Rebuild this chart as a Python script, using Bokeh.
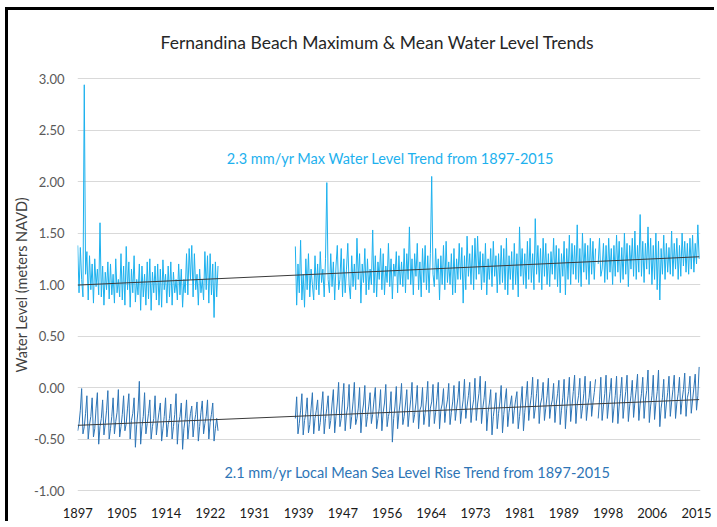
import numpy as np
from bokeh.plotting import figure
from bokeh.models import Range1d, FixedTicker, NumeralTickFormatter, Title
from bokeh.core.properties import value
from bokeh.embed import file_html
from bokeh.resources import INLINE

nan = float("nan")

# ---------------- data ----------------
title_text = "Fernandina Beach Maximum & Mean Water Level Trends"
y_label_text = "Water Level (meters NAVD)"
max_note = "2.3 mm/yr Max Water Level Trend from 1897-2015"
mean_note = "2.1 mm/yr Local Mean Sea Level Rise Trend from 1897-2015"

x_tick_labels = ["1897", "1905", "1914", "1922", "1931", "1939", "1947", "1956",
                 "1964", "1973", "1981", "1989", "1998", "2006", "2015"]
y_ticks = [-1.0, -0.5, 0.0, 0.5, 1.0, 1.5, 2.0, 2.5, 3.0]

seg1_start = 1897.0   # first record
seg2_start = 1938.5   # record resumes
step_years = 0.25     # quarterly samples

# Maximum water level (m NAVD), 1897 - 1923
max_seg1 = [
    1.38, 0.92, 1.36, 1.05,  0.88, 2.94, 1.10, 1.32,  0.85, 1.28, 0.95, 1.20,
    0.82, 1.25, 0.98, 1.15,  0.90, 1.60, 0.88, 1.18,  0.80, 1.12, 0.95, 1.22,
    0.86, 1.20, 0.90, 1.10,  0.82, 1.25, 0.92, 1.05,  0.88, 1.30, 0.85, 1.18,
    0.80, 1.37, 0.95, 1.22,  0.78, 1.15, 0.92, 1.28,  0.83, 1.05, 0.90, 1.20,
    0.75, 1.18, 0.88, 1.10,  0.80, 1.22, 0.86, 1.25,  0.75, 1.12, 0.92, 1.18,
    0.85, 1.20, 0.80, 1.15,  0.78, 1.24, 0.95, 1.10,  0.82, 1.18, 0.88, 1.22,
    0.80, 1.12, 0.92, 1.05,  0.85, 1.20, 0.90, 1.15,  0.78, 1.05, 0.92, 1.30,
    0.90, 1.35, 1.05, 1.38,  0.88, 1.30, 0.95, 1.10,  0.80, 1.15, 0.92, 1.05,
    0.85, 1.32, 0.95, 1.28,  0.82, 1.30, 0.90, 1.20,  0.68, 1.22, 0.88, 1.18,
]
# Maximum water level (m NAVD), 1938.5 - 2015.5
max_seg2 = [
    1.37, 0.80,
    1.20, 0.92, 1.43, 0.85,  1.10, 0.78, 1.25, 0.95,  1.30, 0.88, 1.15, 1.00,
    0.85, 1.28, 0.95, 1.20,  0.90, 1.32, 1.02, 1.15,  0.88, 1.25, 1.99, 1.05,
    0.92, 1.30, 0.98, 1.22,  0.85, 1.18, 1.38, 0.95,  1.05, 1.35, 0.88, 1.25,
    0.92, 1.15, 1.40, 1.00,  0.86, 1.28, 0.98, 1.20,  0.95, 1.45, 1.05, 1.30,
    0.82, 1.20, 1.02, 1.35,  0.90, 1.25, 0.95, 1.15,  1.00, 1.53, 0.92, 1.28,
    0.88, 1.22, 1.05, 1.35,  0.95, 1.30, 0.90, 1.18,  1.02, 1.40, 0.98, 1.25,
    0.86, 1.20, 1.08, 1.32,  0.92, 1.28, 1.00, 1.22,  0.98, 1.35, 0.92, 1.30,
    1.05, 1.56, 1.00, 1.25,  0.90, 1.30, 1.08, 1.40,  0.95, 1.22, 0.88, 1.35,
    1.02, 1.38, 0.95, 1.28,  0.92, 1.30, 2.05, 1.10,  0.98, 1.35, 1.05, 1.25,
    0.85, 1.28, 1.00, 1.38,  0.95, 1.42, 1.02, 1.22,  1.00, 1.30, 0.90, 1.35,
    0.92, 1.25, 1.05, 1.40,  1.05, 1.36, 0.82, 1.28,  0.95, 1.47, 1.08, 1.30,
    1.00, 1.38, 0.95, 1.45,  1.05, 1.47, 1.10, 1.32,  0.95, 1.30, 1.02, 1.40,
    0.90, 1.25, 1.05, 1.35,  0.98, 1.42, 1.08, 1.28,  0.92, 1.30, 1.00, 1.38,
    1.02, 1.35, 0.95, 1.45,  0.90, 1.28, 1.05, 1.32,  0.95, 1.40, 1.00, 1.30,
    0.88, 1.56, 1.08, 1.35,  1.00, 1.30, 0.96, 1.42,  1.05, 1.45, 1.02, 1.30,
    0.95, 1.64, 1.10, 1.38,  1.02, 1.35, 0.95, 1.45,  1.08, 1.40, 1.00, 1.30,
    0.98, 1.32, 1.10, 1.45,  1.05, 1.38, 0.98, 1.35,  0.92, 1.30, 1.08, 1.42,
    0.90, 1.35, 1.05, 1.48,  1.00, 1.40, 1.10, 1.38,  1.05, 1.58, 1.02, 1.35,
    0.98, 1.50, 1.12, 1.40,  1.05, 1.38, 1.00, 1.45,  1.10, 1.42, 1.05, 1.35,
    nan, 1.20, 1.45, 1.08,   1.15, 1.40, 1.02, 1.38,  1.05, 1.45, 1.12, 1.35,
    1.00, 1.38, 1.08, 1.48,  1.12, 1.42, 1.02, 1.36,  1.05, 1.50, 1.10, 1.40,
    0.98, 1.38, 1.15, 1.45,  1.08, 1.52, 1.05, 1.38,  1.12, 1.68, 1.08, 1.42,
    1.02, 1.40, 1.15, 1.56,  1.10, 1.45, 1.00, 1.38,  1.05, 1.50, 0.95, 1.42,
    0.85, 1.35, 1.10, 1.48,  1.05, 1.40, 1.12, 1.36,  1.10, 1.52, 1.08, 1.40,
    1.15, 1.45, 1.05, 1.38,  1.08, 1.50, 1.18, 1.42,  1.12, 1.40, 1.10, 1.45,
    1.15, 1.48, 1.12, 1.40,  1.20, 1.58, 1.25,
]
# Mean sea level (m NAVD), 1897 - 1923
mean_seg1 = [
    -0.42, -0.35, -0.22, -0.01,  -0.45, -0.38, -0.25, -0.08,  -0.50, -0.36, -0.28, -0.10,
    -0.48, -0.40, -0.20, -0.05,  -0.55, -0.38, -0.30, -0.12,  -0.46, -0.35, -0.22, -0.03,
    -0.50, -0.40, -0.28, -0.10,  -0.45, -0.33, -0.24, -0.02,  -0.48, -0.38, -0.26, -0.08,
    -0.42, -0.35, -0.20, -0.06,  -0.50, -0.32, -0.25, -0.10,  -0.58, -0.36, -0.22, 0.06,
    -0.55, -0.38, -0.28, -0.05,  -0.45, -0.35, -0.25, -0.12,  -0.50, -0.38, -0.30, -0.08,
    -0.46, -0.34, -0.24, -0.15,  -0.52, -0.40, -0.28, -0.10,  -0.48, -0.36, -0.30, -0.16,
    -0.50, -0.38, -0.26, -0.06,  -0.55, -0.35, -0.28, -0.15,  -0.60, -0.40, -0.30, -0.12,
    -0.50, -0.36, -0.25, -0.18,  -0.48, -0.34, -0.26, -0.14,  -0.52, -0.38, -0.24, -0.13,
    -0.45, -0.35, -0.28, -0.12,  -0.50, -0.34, -0.26, -0.15,  -0.52, -0.40, -0.30, -0.42,
]
# Mean sea level (m NAVD), 1938.5 - 2015.5
mean_seg2 = [
    -0.30, -0.09,
    -0.45, -0.35, -0.22, -0.06,  -0.46, -0.32, -0.25, -0.10,  -0.44, -0.36, -0.20, -0.05,
    -0.45, -0.30, -0.22, -0.12,  -0.42, -0.34, -0.18, -0.04,  -0.45, -0.30, -0.20, -0.08,
    -0.40, -0.32, -0.16, -0.02,  -0.44, -0.28, -0.15, 0.05,   -0.38, -0.30, -0.12, 0.04,
    -0.42, -0.26, -0.18, 0.03,   -0.40, -0.28, -0.14, 0.05,   -0.36, -0.30, -0.20, 0.00,
    -0.44, -0.25, -0.16, 0.02,   -0.38, -0.28, -0.18, -0.05,  -0.35, -0.26, -0.12, 0.00,
    -0.40, -0.30, -0.20, -0.02,  -0.42, -0.24, -0.15, 0.03,   -0.38, -0.28, -0.22, -0.04,
    -0.53, -0.30, -0.18, 0.01,   -0.40, -0.25, -0.14, 0.04,   -0.36, -0.28, -0.16, -0.02,
    -0.38, -0.24, -0.12, 0.05,   -0.34, -0.26, -0.15, 0.02,   -0.40, -0.22, -0.18, 0.00,
    -0.36, -0.25, -0.12, 0.06,   -0.38, -0.20, -0.14, 0.03,   -0.35, -0.24, -0.10, 0.05,
    -0.40, -0.22, -0.16, -0.01,  -0.34, -0.20, -0.12, 0.04,   -0.36, -0.24, -0.14, 0.02,
    -0.32, -0.20, -0.10, 0.06,   -0.35, -0.22, -0.12, 0.08,   -0.30, -0.18, -0.08, 0.05,
    -0.34, -0.20, -0.12, 0.09,   -0.32, -0.16, -0.06, 0.11,   -0.35, -0.20, -0.10, 0.06,
    -0.42, -0.24, -0.15, -0.02,  -0.46, -0.28, -0.18, -0.05,  -0.40, -0.25, -0.14, 0.02,
    -0.44, -0.26, -0.12, -0.01,  -0.38, -0.24, -0.16, -0.08,  -0.35, -0.22, -0.12, -0.04,
    -0.40, -0.28, -0.15, 0.01,   -0.42, -0.24, -0.10, 0.06,   -0.32, -0.18, -0.08, 0.10,
    -0.30, -0.20, -0.06, 0.08,   -0.35, -0.16, -0.10, 0.05,   -0.32, -0.20, -0.08, 0.09,
    -0.30, -0.18, -0.12, 0.04,   -0.34, -0.16, -0.06, 0.07,   -0.36, -0.22, -0.10, 0.08,
    -0.40, -0.20, -0.08, 0.10,   -0.33, -0.18, -0.04, 0.12,   -0.35, -0.16, -0.08, 0.09,
    -0.30, -0.20, -0.06, 0.11,   -0.32, -0.18, -0.10, 0.06,   -0.28, -0.15, -0.05, 0.08,
    nan, -0.30, -0.12, 0.10,     -0.32, -0.18, -0.06, 0.12,   -0.30, -0.16, -0.04, 0.09,
    -0.34, -0.20, -0.08, 0.11,   -0.35, -0.18, -0.06, 0.10,   -0.30, -0.15, -0.04, 0.12,
    -0.33, -0.18, -0.08, 0.07,   -0.29, -0.14, -0.02, 0.13,   -0.32, -0.16, -0.06, 0.10,
    -0.30, -0.12, -0.03, 0.17,   -0.34, -0.18, -0.08, 0.12,   -0.31, -0.15, -0.04, 0.17,
    -0.38, -0.20, -0.10, 0.08,   -0.30, -0.16, -0.05, 0.11,   -0.28, -0.14, -0.02, 0.12,
    -0.30, -0.15, -0.06, 0.10,   -0.26, -0.12, -0.02, 0.14,   -0.28, -0.10, -0.04, 0.11,
    -0.25, -0.12, 0.00, 0.13,    -0.22, -0.08, 0.20,
]

# linear trends (end points)
trend_years = [1897.0, 2015.5]
max_trend = [0.995, 1.27]
mean_trend = [-0.367, -0.117]

# ---------------- styling ----------------
LIGHT = "#1DB1EE"
DARK = "#2E75B6"
FONT = "Lato"

FIRST_YEAR = 1897.0
YEARS_PER_TICK = (2015 - 1897) / 14.0   # one category label every ~8.4 years


def to_idx(years):
    return (np.asarray(years, dtype=float) - FIRST_YEAR) / YEARS_PER_TICK


def seg_x(start, vals):
    return to_idx(start + step_years * np.arange(len(vals)))


p = figure(width=706, height=511,
           x_range=Range1d(-0.005, 14.09), y_range=Range1d(-1.097, 3.574),
           output_backend="svg", toolbar_location=None,
           min_border_left=69, min_border_right=14,
           min_border_top=9, min_border_bottom=21)
# black frame on the top and left edges, drawn as shadows so it takes no layout space
p.styles = {"margin-left": "8px", "margin-top": "10px",
            "box-shadow": "0 -3px 0 0 #000000, -3px 0 0 0 #000000, -3px -3px 0 0 #000000"}
p.outline_line_color = None
p.background_fill_color = "white"
p.border_fill_color = "white"

# grid
p.xgrid.visible = False
p.ygrid.ticker = FixedTicker(ticks=y_ticks)
p.ygrid.grid_line_color = "#D9D9D9"
p.ygrid.grid_line_width = 1

# y axis
ya = p.yaxis[0]
ya.ticker = FixedTicker(ticks=y_ticks)
ya.formatter = NumeralTickFormatter(format="0.00")
ya.axis_line_color = None
ya.major_tick_line_color = None
ya.minor_tick_line_color = None
ya.major_tick_out = 0
ya.major_tick_in = 0
ya.minor_tick_out = 0
ya.minor_tick_in = 0
ya.major_label_standoff = 13
ya.major_label_text_font = FONT
ya.major_label_text_font_size = "13px"
ya.major_label_text_color = "#595959"

# y axis title (placed like the original, a little below the frame centre)
p.add_layout(Title(text=y_label_text, align="left", offset=128, standoff=2,
                   text_font=FONT, text_font_size="14.5px", text_font_style="normal",
                   text_color="#404040"), "left")

# x axis
xa = p.xaxis[0]
xa.ticker = FixedTicker(ticks=list(range(len(x_tick_labels))))
xa.major_label_overrides = {i: s for i, s in enumerate(x_tick_labels)}
xa.axis_line_color = None
xa.major_tick_line_color = None
xa.minor_tick_line_color = None
xa.major_tick_out = 0
xa.major_tick_in = 0
xa.minor_tick_out = 0
xa.minor_tick_in = 0
xa.major_label_standoff = 7
xa.major_label_text_font = FONT
xa.major_label_text_font_size = "13px"
xa.major_label_text_color = "#1A1A1A"

# series
for start, vals in ((seg1_start, max_seg1), (seg2_start, max_seg2)):
    p.line(seg_x(start, vals), vals, line_color=LIGHT, line_width=1)
p.line(to_idx(trend_years), max_trend, line_color="#3A3A3A", line_width=1)

for start, vals in ((seg1_start, mean_seg1), (seg2_start, mean_seg2)):
    p.line(seg_x(start, vals), vals, line_color=DARK, line_width=1)
p.line(to_idx(trend_years), mean_trend, line_color="#3A3A3A", line_width=1)

# texts
p.text(x=[to_idx(1954.2)], y=[3.35], text=[title_text],
       text_font=value(FONT), text_font_size="17.5px", text_color="#262626",
       text_align="center", text_baseline="middle")
p.text(x=[to_idx(1956.7)], y=[2.22], text=[max_note],
       text_font=value(FONT), text_font_size="14.5px", text_color=LIGHT,
       text_align="center", text_baseline="middle")
p.text(x=[to_idx(1961.8)], y=[-0.825], text=[mean_note],
       text_font=value(FONT), text_font_size="14.5px", text_color=DARK,
       text_align="center", text_baseline="middle")

open("out.html", "w").write(file_html(p, INLINE))
